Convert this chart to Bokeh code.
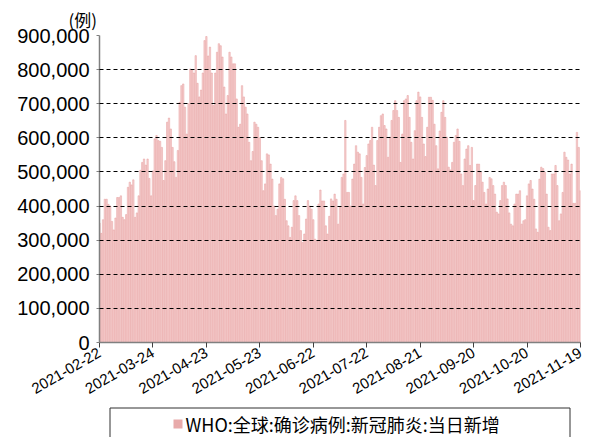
import pandas as pd
from bokeh.plotting import figure
from bokeh.models import ColumnDataSource, Range1d, FixedTicker, NumeralTickFormatter
from bokeh.layouts import column
from bokeh.core.properties import value
from bokeh.embed import file_html
from bokeh.resources import INLINE
import math

# ---- data (daily new confirmed cases, thousands), starting 2021-02-22 ----
start_date = "2021-02-22"
daily_new_k = [
    350, 320, 360, 420, 420, 405, 400,
    355, 330, 365, 425, 425, 430, 367,
    360, 375, 455, 470, 462, 477, 367,
    380, 430, 505, 528, 538, 520, 538,
    481, 430, 503, 597, 607, 592, 590,
    572, 475, 533, 646, 658, 626, 572,
    530, 484, 563, 704, 753, 758, 690,
    611, 700, 802, 800, 790, 841, 760,
    720, 740, 790, 885, 897, 840, 866,
    790, 695, 790, 851, 876, 870, 837,
    749, 670, 724, 851, 837, 817, 817,
    714, 631, 640, 753, 720, 690, 670,
    587, 533, 560, 646, 640, 631, 600,
    533, 445, 465, 553, 550, 523, 479,
    400, 372, 391, 465, 484, 480, 420,
    357, 342, 308, 338, 416, 430, 416,
    372, 328, 293, 318, 362, 416, 400,
    391, 360, 303, 298, 406, 447, 415,
    415, 342, 318, 370, 421, 415, 435,
    420, 347, 396, 484, 494, 651, 440,
    440, 400, 479, 523, 577, 558, 553,
    484, 406, 513, 548, 582, 592, 631,
    520, 460, 592, 631, 665, 670, 636,
    626, 543, 602, 651, 680, 709, 680,
    660, 528, 611, 709, 714, 724, 660,
    587, 538, 621, 709, 734, 720, 660,
    582, 545, 631, 719, 719, 710, 640,
    577, 509, 620, 675, 709, 660, 602,
    514, 506, 528, 587, 607, 626, 590,
    494, 460, 538, 567, 577, 519, 572,
    416, 460, 523, 523, 500, 470, 440,
    406, 450, 484, 480, 460, 435, 382,
    377, 416, 460, 470, 460, 421, 380,
    347, 342, 406, 435, 435, 445, 347,
    357, 360, 430, 465, 475, 450, 420,
    333, 323, 479, 514, 510, 499, 435,
    338, 328, 494, 494, 519, 460, 357,
    377, 440, 558, 543, 535, 494, 523,
    408, 408, 616, 572, 445,
]
y_ticks = [0, 100000, 200000, 300000, 400000, 500000, 600000, 700000, 800000, 900000]
x_tick_step_days = 30
series_name = "WHO:全球:确诊病例:新冠肺炎:当日新增"
unit_label = "(例)"

dates = pd.date_range(start_date, periods=len(daily_new_k), freq="D")
day_idx = list(range(len(daily_new_k)))
values = [v * 1000 for v in daily_new_k]
src = ColumnDataSource(dict(x=day_idx, top=values))

x_ticks = list(range(0, len(daily_new_k), x_tick_step_days))
x_labels = {t: dates[t].strftime("%Y-%m-%d") for t in x_ticks}

W = 585
BL, BR = 99, 5
p = figure(width=W, height=405, output_backend="svg", toolbar_location=None,
           x_range=Range1d(0, len(daily_new_k) - 1), y_range=Range1d(0, 900000),
           min_border_left=BL, min_border_right=BR, min_border_top=35, min_border_bottom=63)
p.outline_line_color = None
p.background_fill_color = "white"

p.vbar(x="x", top="top", width=0.78, source=src, fill_color="#F6D2D2",
       line_color="#E79C9C", line_width=0.5)

p.xgrid.visible = False
p.ygrid.ticker = FixedTicker(ticks=y_ticks[1:])
p.ygrid.grid_line_color = "black"
p.ygrid.grid_line_dash = "4 3"
p.ygrid.grid_line_width = 1
p.ygrid.level = "overlay"

ya = p.yaxis[0]
ya.ticker = FixedTicker(ticks=y_ticks)
ya.formatter = NumeralTickFormatter(format="0,0")
ya.major_label_text_font = "Liberation Sans"
ya.major_label_text_font_size = "20px"
ya.major_label_text_color = "black"
ya.axis_line_color = "#808080"
ya.axis_line_width = 1.5
ya.major_tick_line_color = "#808080"
ya.major_tick_out = 3
ya.major_tick_in = 0
ya.minor_tick_line_color = None
ya.major_label_standoff = 7

xa = p.xaxis[0]
xa.ticker = FixedTicker(ticks=x_ticks)
xa.major_label_overrides = x_labels
xa.major_label_orientation = math.pi / 6
xa.major_label_text_font = "Liberation Sans"
xa.major_label_text_font_size = "15px"
xa.major_label_text_color = "black"
xa.axis_line_color = "#808080"
xa.axis_line_width = 1.5
xa.major_tick_line_color = "#404040"
xa.major_tick_out = 5
xa.major_tick_in = 0
xa.minor_tick_line_color = None
xa.major_label_standoff = 4

p.title.text = unit_label
p.title.align = "left"
p.title.offset = -31
p.title.standoff = 7
p.title.text_font = "Noto Sans CJK SC"
p.title.text_font_size = "17px"
p.title.text_font_style = "normal"
p.title.text_color = "black"

# ---- legend strip (data units = page pixels) ----
p2 = figure(width=W, height=32, output_backend="svg", toolbar_location=None,
            x_range=Range1d(BL, W - BR), y_range=Range1d(437, 405),
            min_border_left=BL, min_border_right=BR, min_border_top=0, min_border_bottom=0)
p2.axis.visible = False
p2.grid.visible = False
p2.outline_line_color = None
p2.line(x=[109.5, 109.5, 569.5, 569.5], y=[440, 407.5, 407.5, 440], line_color="#303030", line_width=1)
p2.quad(left=[173], right=[182], top=[419], bottom=[428], fill_color="#E8AAAA", line_color=None)
p2.text(x=[185], y=[423], text=[series_name], text_font=value("Noto Sans CJK SC"),
        text_font_size="18px", text_baseline="middle", text_align="left", text_color="black")

layout = column(p, p2, spacing=0)
open("out.html", "w").write(file_html(layout, INLINE))
